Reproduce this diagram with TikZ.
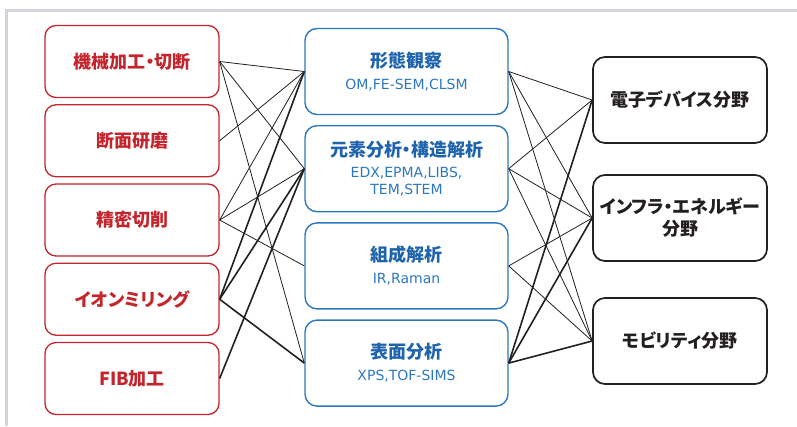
\documentclass[tikz,border=0pt]{standalone}
\usepackage{fontspec}
\usepackage{xcolor}
\usetikzlibrary{positioning}
\newfontfamily\jpfont[RawFeature=+palt]{Noto Sans CJK JP}
\newfontfamily\subfont{DejaVu Sans}
\definecolor{procRed}{HTML}{C4242B}
\definecolor{anaBlue}{HTML}{1E63AC}
\definecolor{anaLine}{HTML}{2C78C0}
\definecolor{fieldBlack}{HTML}{231F20}
\definecolor{frameGrey}{HTML}{D4D4DE}
\newcommand{\subtxt}{\subfont\mdseries\fontsize{14pt}{17pt}\selectfont\color{anaLine}}

\tikzset{
  prbox/.style={rectangle, rounded corners=11pt, draw=procRed, line width=1.3pt,
    text=procRed, minimum width=174pt, minimum height=72pt, align=center,
    font=\jpfont\bfseries\fontsize{18pt}{20pt}\selectfont, node distance=79.25pt},
  anbox/.style={rectangle, rounded corners=12pt, draw=anaLine, line width=1.4pt,
    text=anaBlue, minimum width=203pt, minimum height=86pt, align=center,
    font=\jpfont\bfseries\fontsize{18pt}{20pt}\selectfont, node distance=97.2pt},
  fdbox/.style={rectangle, rounded corners=12pt, draw=fieldBlack, line width=1.7pt,
    text=fieldBlack, minimum width=174pt, minimum height=86pt, align=center,
    font=\jpfont\bfseries\fontsize{18pt}{22pt}\selectfont, node distance=118pt},
}

\begin{document}
\begin{tikzpicture}[x=1pt, y=-1pt]
  \useasboundingbox (0,0) rectangle (797,426);
  \draw[frameGrey, line width=3pt] (6.5,426) -- (6.5,10.5) -- (797,10.5);

  % processing
  \node[prbox] (1) at (132,61.5) {機械加工・切断};
  \node[prbox] (2) [below of = 1] {断面研磨};
  \node[prbox] (3) [below of = 2] {精密切削};
  \node[prbox] (4) [below of = 3] {イオンミリング};
  \node[prbox] (5) [below of = 4] {FIB加工};

  % analysis
  \node[anbox] (6) at (406.5,71.5) {形態観察\\[2pt]\subtxt OM,FE-SEM,CLSM};
  \node[anbox] (7) [below of = 6] {元素分析・構造解析\\[1pt]\subtxt EDX,EPMA,LIBS,\\[-3pt]\subtxt TEM,STEM};
  \node[anbox] (8) [below of = 7] {組成解析\\[2pt]\subtxt IR,Raman};
  \node[anbox] (9) [below of = 8] {表面分析\\[2pt]\subtxt XPS,TOF-SIMS};

  % fields
  \node[fdbox] (10) at (680,100) {電子デバイス分野};
  \node[fdbox] (11) [below of = 10] {インフラ・エネルギー\\分野};
  \node[fdbox] (12) [below of = 11, yshift=-5pt] {モビリティ分野};

  \path[draw=fieldBlack, line width=0.8]
    (1.east) edge (6.west)
    (1.east) edge (7.west)
    (1.east) edge (9.west)
    (2.east) edge (6.west)
    (3.east) edge (6.west)
    (3.east) edge (7.west)
    (3.east) edge (8.west)
    (4.east) edge[line width=1.6] (6.west)
    (4.east) edge[line width=1.6] (7.west)
    (4.east) edge[line width=1.6] (9.west)
    (5.east) edge[line width=1.6] (7.west)
    (6.east) edge (10.west)
    (6.east) edge (11.west)
    (6.east) edge (12.west)
    (7.east) edge (10.west)
    (7.east) edge (11.west)
    (7.east) edge (12.west)
    (8.east) edge (11.west)
    (8.east) edge (12.west)
    (9.east) edge[line width=1.6] (10.west)
    (9.east) edge[line width=1.6] (11.west)
    (9.east) edge[line width=1.6] (12.west)
  ;
\end{tikzpicture}
\end{document}
